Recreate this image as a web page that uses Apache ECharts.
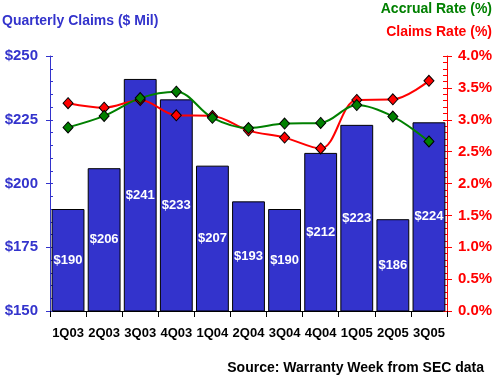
<!DOCTYPE html>
<html>
<head>
<meta charset="utf-8">
<script src="https://cdn.jsdelivr.net/npm/echarts@6/dist/echarts.min.js"></script>
<style>html,body{margin:0;padding:0;background:#fff}#c{width:500px;height:380px}</style>
</head>
<body>
<div id="c"></div>
<script>
const categories = ['1Q03','2Q03','3Q03','4Q03','1Q04','2Q04','3Q04','4Q04','1Q05','2Q05','3Q05'];
const claimsMil = [190, 206, 241, 233, 207, 193, 190, 212, 223, 186, 224];
const claimsRate = [3.26, 3.19, 3.31, 3.07, 3.06, 2.83, 2.72, 2.55, 3.31, 3.32, 3.61];
const accrualRate = [2.88, 3.06, 3.34, 3.44, 3.03, 2.87, 2.94, 2.95, 3.23, 3.05, 2.66];

const BLUE = '#3333cc', RED = '#ff0000', GREEN = '#008000';
const FONT = 'Liberation Sans, Arial, sans-serif';
const NARROW = 'Liberation Sans Narrow, Arial Narrow, Liberation Sans, sans-serif';

const chart = echarts.init(document.getElementById('c'), null, {renderer: 'canvas'});
chart.setOption({
  animation: false,
  backgroundColor: '#fff',
  title: [
    {text: 'Quarterly Claims ($ Mil)', left: 2, top: 14, padding: 0,
     textStyle: {color: BLUE, fontSize: 14, fontWeight: 'bold', fontFamily: FONT}},
    {text: 'Accrual Rate (%)', right: 8, top: 2, padding: 0,
     textStyle: {color: GREEN, fontSize: 14, fontWeight: 'bold', fontFamily: FONT}},
    {text: 'Claims Rate (%)', right: 8, top: 25, padding: 0,
     textStyle: {color: RED, fontSize: 14, fontWeight: 'bold', fontFamily: FONT}},
    {text: 'Source: Warranty Week from SEC data', right: 16, top: 361, padding: 0,
     textStyle: {color: '#000', fontSize: 14, fontWeight: 'bold', fontFamily: FONT}}
  ],
  grid: {left: 50, right: 53, top: 56, bottom: 69, containLabel: false},
  xAxis: {
    type: 'category', data: categories, boundaryGap: true,
    axisLine: {lineStyle: {color: '#000', width: 1}},
    axisTick: {show: true, length: 6, lineStyle: {color: '#000'}},
    axisLabel: {color: '#000', fontSize: 13, fontWeight: 'bold', fontFamily: FONT, margin: 16, interval: 0},
    splitLine: {show: false}
  },
  yAxis: [
    {type: 'value', position: 'left', min: 150, max: 250, interval: 25,
     axisLine: {show: true, lineStyle: {color: BLUE}},
     axisTick: {show: true, length: 4, lineStyle: {color: BLUE}},
     axisLabel: {color: BLUE, fontSize: 15, fontWeight: 'bold', fontFamily: FONT, margin: 12,
       formatter: v => '$' + v},
     splitLine: {show: false}},
    {type: 'value', position: 'left', min: 150, max: 250, interval: 5,
     axisLine: {show: false},
     axisTick: {show: true, inside: true, length: 3, lineStyle: {color: BLUE}},
     axisLabel: {show: false}, splitLine: {show: false}},
    {type: 'value', position: 'right', min: 0, max: 4, interval: 0.5,
     axisLine: {show: true, lineStyle: {color: RED}},
     axisTick: {show: true, length: 5, lineStyle: {color: RED}},
     axisLabel: {color: RED, fontSize: 15, fontWeight: 'bold', fontFamily: FONT, margin: 11,
       formatter: v => v.toFixed(1) + '%'},
     splitLine: {show: false}},
    {type: 'value', position: 'right', min: 0, max: 4, interval: 0.1,
     axisLine: {show: false},
     axisTick: {show: true, inside: true, length: 4, lineStyle: {color: RED}},
     axisLabel: {show: false}, splitLine: {show: false}}
  ],
  series: [
    {type: 'bar', name: 'Quarterly Claims', data: claimsMil, yAxisIndex: 0,
     barCategoryGap: '9%',
     itemStyle: {color: BLUE, borderColor: '#000', borderWidth: 1},
     label: {show: true, position: 'inside', color: '#fff', fontSize: 13, fontWeight: 'bold',
       fontFamily: NARROW, formatter: p => '$' + p.value}},
    {type: 'line', name: 'Claims Rate', data: claimsRate, yAxisIndex: 2, smooth: 0.35,
     symbol: 'diamond', symbolSize: [10, 11],
     lineStyle: {color: RED, width: 2},
     itemStyle: {color: RED, borderColor: '#000', borderWidth: 1}},
    {type: 'line', name: 'Accrual Rate', data: accrualRate, yAxisIndex: 2, smooth: 0.35,
     symbol: 'diamond', symbolSize: [10, 11],
     lineStyle: {color: GREEN, width: 2},
     itemStyle: {color: GREEN, borderColor: '#000', borderWidth: 1}}
  ]
});
</script>
</body>
</html>
